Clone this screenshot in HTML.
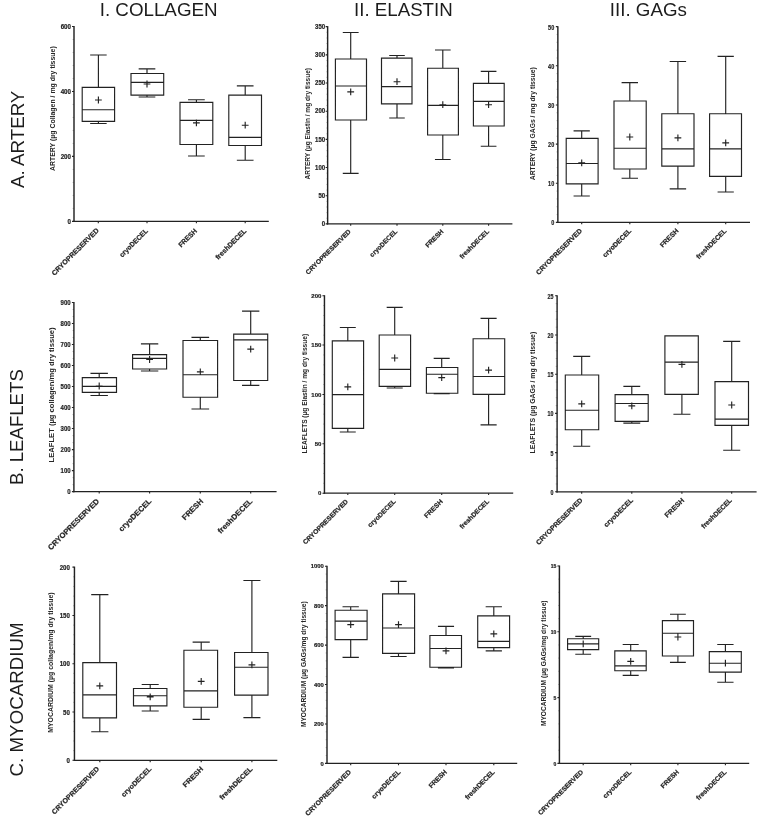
<!DOCTYPE html>
<html lang="en"><head><meta charset="utf-8"><title>Figure</title>
<style>html,body{margin:0;padding:0;background:#fff}svg{display:block}</style></head>
<body>
<svg width="764" height="823" viewBox="0 0 764 823" font-family='"Liberation Sans", Arial, Helvetica, sans-serif' fill="#242424">
<rect width="764" height="823" fill="#ffffff"/>
<defs><filter id="soft" x="0" y="0" width="764" height="823" filterUnits="userSpaceOnUse"><feGaussianBlur stdDeviation="0.33"/></filter></defs>
<g filter="url(#soft)">
<text x="99.7" y="16.3" font-size="17.6" textLength="117.9" lengthAdjust="spacingAndGlyphs" fill="#1c1c1c">I. COLLAGEN</text>
<text x="354.1" y="16.3" font-size="17.6" textLength="98.6" lengthAdjust="spacingAndGlyphs" fill="#1c1c1c">II. ELASTIN</text>
<text x="609.8" y="16.4" font-size="17.6" textLength="77.1" lengthAdjust="spacingAndGlyphs" fill="#1c1c1c">III. GAGs</text>
<text transform="translate(23.5 188) rotate(-90)" font-size="18.8" textLength="97.4" lengthAdjust="spacingAndGlyphs" fill="#1c1c1c">A. ARTERY</text>
<text transform="translate(23.1 485) rotate(-90)" font-size="18.8" textLength="115.8" lengthAdjust="spacingAndGlyphs" fill="#1c1c1c">B. LEAFLETS</text>
<text transform="translate(23.4 776.4) rotate(-90)" font-size="18.8" textLength="153.9" lengthAdjust="spacingAndGlyphs" fill="#1c1c1c">C. MYOCARDIUM</text>
<g><path d="M74 25.95V222" fill="none" stroke="#242424" stroke-width="1.45"/><path d="M73.3 221.4H268.8" fill="none" stroke="#242424" stroke-width="1.25"/><path d="M72 26.45H74M72 91.43H74M72 156.42H74M72 221.4H74" stroke="#242424" stroke-width="1.1" fill="none"/><path d="M72.6 39.45H74M72.6 52.44H74M72.6 65.44H74M72.6 78.44H74M72.6 104.43H74M72.6 117.43H74M72.6 130.42H74M72.6 143.42H74M72.6 169.41H74M72.6 182.41H74M72.6 195.41H74M72.6 208.4H74" stroke="#242424" stroke-width="0.7" fill="none" opacity="0.4"/><path d="M98.3 221.4V223.3M147 221.4V223.3M196.4 221.4V223.3M245.2 221.4V223.3" stroke="#242424" stroke-width="1.1" fill="none"/><text x="60.65" y="29.32" font-size="6.9" font-weight="bold" textLength="10.35" lengthAdjust="spacingAndGlyphs" stroke="#242424" stroke-width="0.22">600</text><text x="60.65" y="94.3" font-size="6.9" font-weight="bold" textLength="10.35" lengthAdjust="spacingAndGlyphs" stroke="#242424" stroke-width="0.22">400</text><text x="60.65" y="159.29" font-size="6.9" font-weight="bold" textLength="10.35" lengthAdjust="spacingAndGlyphs" stroke="#242424" stroke-width="0.22">200</text><text x="67.55" y="224.27" font-size="6.9" font-weight="bold" textLength="3.45" lengthAdjust="spacingAndGlyphs" stroke="#242424" stroke-width="0.22">0</text><text transform="translate(55.2 171) rotate(-90)" font-size="7" font-weight="bold" textLength="124.7" lengthAdjust="spacingAndGlyphs" fill="#262626">ARTERY (µg Collagen / mg dry tissue)</text><text transform="translate(99.4 230.96) rotate(-45)" text-anchor="end" font-size="7" font-weight="bold" textLength="63.62" lengthAdjust="spacingAndGlyphs" fill="#262626" stroke="#262626" stroke-width="0.22">CRYOPRESERVED</text><text transform="translate(148.4 231.46) rotate(-45)" text-anchor="end" font-size="7" font-weight="bold" textLength="37.03" lengthAdjust="spacingAndGlyphs" fill="#262626" stroke="#262626" stroke-width="0.22">cryoDECEL</text><text transform="translate(197.4 231.46) rotate(-45)" text-anchor="end" font-size="7" font-weight="bold" textLength="23.03" lengthAdjust="spacingAndGlyphs" fill="#262626" stroke="#262626" stroke-width="0.22">FRESH</text><text transform="translate(246.8 231.46) rotate(-45)" text-anchor="end" font-size="7" font-weight="bold" textLength="40.43" lengthAdjust="spacingAndGlyphs" fill="#262626" stroke="#262626" stroke-width="0.22">freshDECEL</text><path d="M82.2 87.4H114.6V121.4H82.2ZM82.2 109.7H114.6M98.4 87.4V55M90.14 55H106.66M98.4 121.4V123.5M90.14 123.5H106.66M95 100H101.8M98.4 96.6V103.4M131 73.5H163.7V95.1H131ZM131 82.3H163.7M147 73.5V68.9M138.66 68.9H155.34M147 95.1V97M138.66 97H155.34M143.6 84H150.4M147 80.6V87.4M180 102.3H212.8V144.5H180ZM180 120.3H212.8M196.4 102.3V99.7M188.04 99.7H204.76M196.4 144.5V156M188.04 156H204.76M193 122.9H199.8M196.4 119.5V126.3M228.8 95.1H261.5V145.5H228.8ZM228.8 137.3H261.5M245.2 95.1V85.9M236.86 85.9H253.54M245.2 145.5V160.2M236.86 160.2H253.54M241.8 125.2H248.6M245.2 121.8V128.6" fill="none" stroke="#242424" stroke-width="1.15"/></g>
<g><path d="M327.65 26.15V224.5" fill="none" stroke="#242424" stroke-width="1.45"/><path d="M326.95 223.9H512.4" fill="none" stroke="#242424" stroke-width="1.25"/><path d="M325.65 26.65H327.65M325.65 54.83H327.65M325.65 83.01H327.65M325.65 111.19H327.65M325.65 139.36H327.65M325.65 167.54H327.65M325.65 195.72H327.65M325.65 223.9H327.65" stroke="#242424" stroke-width="1.1" fill="none"/><path d="M326.25 32.29H327.65M326.25 37.92H327.65M326.25 43.56H327.65M326.25 49.19H327.65M326.25 60.46H327.65M326.25 66.1H327.65M326.25 71.74H327.65M326.25 77.37H327.65M326.25 88.64H327.65M326.25 94.28H327.65M326.25 99.91H327.65M326.25 105.55H327.65M326.25 116.82H327.65M326.25 122.46H327.65M326.25 128.09H327.65M326.25 133.73H327.65M326.25 145H327.65M326.25 150.64H327.65M326.25 156.27H327.65M326.25 161.91H327.65M326.25 173.18H327.65M326.25 178.81H327.65M326.25 184.45H327.65M326.25 190.09H327.65M326.25 201.36H327.65M326.25 206.99H327.65M326.25 212.63H327.65M326.25 218.26H327.65" stroke="#242424" stroke-width="0.7" fill="none" opacity="0.4"/><path d="M350.7 223.9V225.8M397 223.9V225.8M442.8 223.9V225.8M488.6 223.9V225.8" stroke="#242424" stroke-width="1.1" fill="none"/><text x="315.05" y="28.91" font-size="6.3" font-weight="bold" textLength="10.05" lengthAdjust="spacingAndGlyphs" stroke="#242424" stroke-width="0.22">350</text><text x="315.05" y="57.08" font-size="6.3" font-weight="bold" textLength="10.05" lengthAdjust="spacingAndGlyphs" stroke="#242424" stroke-width="0.22">300</text><text x="315.05" y="85.26" font-size="6.3" font-weight="bold" textLength="10.05" lengthAdjust="spacingAndGlyphs" stroke="#242424" stroke-width="0.22">250</text><text x="315.05" y="113.44" font-size="6.3" font-weight="bold" textLength="10.05" lengthAdjust="spacingAndGlyphs" stroke="#242424" stroke-width="0.22">200</text><text x="315.05" y="141.62" font-size="6.3" font-weight="bold" textLength="10.05" lengthAdjust="spacingAndGlyphs" stroke="#242424" stroke-width="0.22">150</text><text x="315.05" y="169.8" font-size="6.3" font-weight="bold" textLength="10.05" lengthAdjust="spacingAndGlyphs" stroke="#242424" stroke-width="0.22">100</text><text x="318.4" y="197.98" font-size="6.3" font-weight="bold" textLength="6.7" lengthAdjust="spacingAndGlyphs" stroke="#242424" stroke-width="0.22">50</text><text x="321.75" y="226.16" font-size="6.3" font-weight="bold" textLength="3.35" lengthAdjust="spacingAndGlyphs" stroke="#242424" stroke-width="0.22">0</text><text transform="translate(310.3 179.5) rotate(-90)" font-size="6.4" font-weight="bold" textLength="111.5" lengthAdjust="spacingAndGlyphs" fill="#262626">ARTERY (µg Elastin / mg dry tissue)</text><text transform="translate(351.3 231.96) rotate(-45)" text-anchor="end" font-size="6.6" font-weight="bold" textLength="60.87" lengthAdjust="spacingAndGlyphs" fill="#262626" stroke="#262626" stroke-width="0.22">CRYOPRESERVED</text><text transform="translate(397.8 231.96) rotate(-45)" text-anchor="end" font-size="6.6" font-weight="bold" textLength="35.98" lengthAdjust="spacingAndGlyphs" fill="#262626" stroke="#262626" stroke-width="0.22">cryoDECEL</text><text transform="translate(444 231.96) rotate(-45)" text-anchor="end" font-size="6.6" font-weight="bold" textLength="22.68" lengthAdjust="spacingAndGlyphs" fill="#262626" stroke="#262626" stroke-width="0.22">FRESH</text><text transform="translate(489.5 231.96) rotate(-45)" text-anchor="end" font-size="6.6" font-weight="bold" textLength="38.59" lengthAdjust="spacingAndGlyphs" fill="#262626" stroke="#262626" stroke-width="0.22">freshDECEL</text><path d="M335.4 59H366.5V120H335.4ZM335.4 86H366.5M350.7 59V32.5M342.77 32.5H358.63M350.7 120V173.3M342.77 173.3H358.63M347.3 91.8H354.1M350.7 88.4V95.2M381.5 58.1H412V103.9H381.5ZM381.5 86.6H412M397 58.1V55.5M389.22 55.5H404.78M397 103.9V118M389.22 118H404.78M393.6 81.7H400.4M397 78.3V85.1M427.6 68.2H458.4V135H427.6ZM427.6 105.3H458.4M442.8 68.2V50M434.95 50H450.65M442.8 135V159.5M434.95 159.5H450.65M439.4 104.7H446.2M442.8 101.3V108.1M473.4 83.4H504.2V126H473.4ZM473.4 101.3H504.2M488.6 83.4V71.3M480.75 71.3H496.45M488.6 126V146.2M480.75 146.2H496.45M485.2 104.7H492M488.6 101.3V108.1" fill="none" stroke="#242424" stroke-width="1.15"/></g>
<g><path d="M557.85 26.15V223" fill="none" stroke="#242424" stroke-width="1.45"/><path d="M557.15 222.4H750" fill="none" stroke="#242424" stroke-width="1.25"/><path d="M555.85 26.65H557.85M555.85 65.8H557.85M555.85 104.95H557.85M555.85 144.1H557.85M555.85 183.25H557.85M555.85 222.4H557.85" stroke="#242424" stroke-width="1.1" fill="none"/><path d="M556.45 34.48H557.85M556.45 42.31H557.85M556.45 50.14H557.85M556.45 57.97H557.85M556.45 73.63H557.85M556.45 81.46H557.85M556.45 89.29H557.85M556.45 97.12H557.85M556.45 112.78H557.85M556.45 120.61H557.85M556.45 128.44H557.85M556.45 136.27H557.85M556.45 151.93H557.85M556.45 159.76H557.85M556.45 167.59H557.85M556.45 175.42H557.85M556.45 191.08H557.85M556.45 198.91H557.85M556.45 206.74H557.85M556.45 214.57H557.85" stroke="#242424" stroke-width="0.7" fill="none" opacity="0.4"/><path d="M581.7 222.4V224.3M629.8 222.4V224.3M677.9 222.4V224.3M725.7 222.4V224.3" stroke="#242424" stroke-width="1.1" fill="none"/><text x="548.1" y="29.53" font-size="7.2" font-weight="bold" textLength="6.1" lengthAdjust="spacingAndGlyphs" stroke="#242424" stroke-width="0.22">50</text><text x="548.1" y="68.68" font-size="7.2" font-weight="bold" textLength="6.1" lengthAdjust="spacingAndGlyphs" stroke="#242424" stroke-width="0.22">40</text><text x="548.1" y="107.83" font-size="7.2" font-weight="bold" textLength="6.1" lengthAdjust="spacingAndGlyphs" stroke="#242424" stroke-width="0.22">30</text><text x="548.1" y="146.98" font-size="7.2" font-weight="bold" textLength="6.1" lengthAdjust="spacingAndGlyphs" stroke="#242424" stroke-width="0.22">20</text><text x="548.1" y="186.13" font-size="7.2" font-weight="bold" textLength="6.1" lengthAdjust="spacingAndGlyphs" stroke="#242424" stroke-width="0.22">10</text><text x="551.15" y="225.28" font-size="7.2" font-weight="bold" textLength="3.05" lengthAdjust="spacingAndGlyphs" stroke="#242424" stroke-width="0.22">0</text><text transform="translate(535 180.2) rotate(-90)" font-size="7" font-weight="bold" textLength="113" lengthAdjust="spacingAndGlyphs" fill="#262626">ARTERY (µg GAGs / mg dry tissue)</text><text transform="translate(582.5 231.36) rotate(-45)" text-anchor="end" font-size="6.8" font-weight="bold" textLength="61.92" lengthAdjust="spacingAndGlyphs" fill="#262626" stroke="#262626" stroke-width="0.22">CRYOPRESERVED</text><text transform="translate(631.8 231.36) rotate(-45)" text-anchor="end" font-size="6.8" font-weight="bold" textLength="37.46" lengthAdjust="spacingAndGlyphs" fill="#262626" stroke="#262626" stroke-width="0.22">cryoDECEL</text><text transform="translate(678.9 231.36) rotate(-45)" text-anchor="end" font-size="6.8" font-weight="bold" textLength="23.03" lengthAdjust="spacingAndGlyphs" fill="#262626" stroke="#262626" stroke-width="0.22">FRESH</text><text transform="translate(727 231.36) rotate(-45)" text-anchor="end" font-size="6.8" font-weight="bold" textLength="39.65" lengthAdjust="spacingAndGlyphs" fill="#262626" stroke="#262626" stroke-width="0.22">freshDECEL</text><path d="M566.2 138.4H598.1V183.9H566.2ZM566.2 163.5H598.1M581.7 138.4V130.9M573.57 130.9H589.83M581.7 183.9V196M573.57 196H589.83M578.3 162.9H585.1M581.7 159.5V166.3M614 101H646.2V169H614ZM614 148.2H646.2M629.8 101V82.6M621.59 82.6H638.01M629.8 169V178.2M621.59 178.2H638.01M626.4 137H633.2M629.8 133.6V140.4M661.8 113.7H694V166.1H661.8ZM661.8 148.8H694M677.9 113.7V61.5M669.69 61.5H686.11M677.9 166.1V188.8M669.69 188.8H686.11M674.5 137.9H681.3M677.9 134.5V141.3M709.6 113.7H741.5V176.4H709.6ZM709.6 148.8H741.5M725.7 113.7V56.4M717.57 56.4H733.83M725.7 176.4V192M717.57 192H733.83M722.3 142.8H729.1M725.7 139.4V146.2" fill="none" stroke="#242424" stroke-width="1.15"/></g>
<g><path d="M73.9 302V492.2" fill="none" stroke="#242424" stroke-width="1.45"/><path d="M73.2 491.6H276.6" fill="none" stroke="#242424" stroke-width="1.25"/><path d="M71.9 302.5H73.9M71.9 323.51H73.9M71.9 344.52H73.9M71.9 365.53H73.9M71.9 386.54H73.9M71.9 407.56H73.9M71.9 428.57H73.9M71.9 449.58H73.9M71.9 470.59H73.9M71.9 491.6H73.9" stroke="#242424" stroke-width="1.1" fill="none"/><path d="M72.5 309.5H73.9M72.5 316.51H73.9M72.5 330.51H73.9M72.5 337.52H73.9M72.5 351.53H73.9M72.5 358.53H73.9M72.5 372.54H73.9M72.5 379.54H73.9M72.5 393.55H73.9M72.5 400.55H73.9M72.5 414.56H73.9M72.5 421.56H73.9M72.5 435.57H73.9M72.5 442.57H73.9M72.5 456.58H73.9M72.5 463.59H73.9M72.5 477.59H73.9M72.5 484.6H73.9" stroke="#242424" stroke-width="0.7" fill="none" opacity="0.4"/><path d="M99.2 491.6V493.5M149.6 491.6V493.5M200.3 491.6V493.5M250.7 491.6V493.5" stroke="#242424" stroke-width="1.1" fill="none"/><text x="60.55" y="305.29" font-size="7.5" font-weight="bold" textLength="10.05" lengthAdjust="spacingAndGlyphs" stroke="#242424" stroke-width="0.22">900</text><text x="60.55" y="326.3" font-size="7.5" font-weight="bold" textLength="10.05" lengthAdjust="spacingAndGlyphs" stroke="#242424" stroke-width="0.22">800</text><text x="60.55" y="347.31" font-size="7.5" font-weight="bold" textLength="10.05" lengthAdjust="spacingAndGlyphs" stroke="#242424" stroke-width="0.22">700</text><text x="60.55" y="368.32" font-size="7.5" font-weight="bold" textLength="10.05" lengthAdjust="spacingAndGlyphs" stroke="#242424" stroke-width="0.22">600</text><text x="60.55" y="389.33" font-size="7.5" font-weight="bold" textLength="10.05" lengthAdjust="spacingAndGlyphs" stroke="#242424" stroke-width="0.22">500</text><text x="60.55" y="410.34" font-size="7.5" font-weight="bold" textLength="10.05" lengthAdjust="spacingAndGlyphs" stroke="#242424" stroke-width="0.22">400</text><text x="60.55" y="431.35" font-size="7.5" font-weight="bold" textLength="10.05" lengthAdjust="spacingAndGlyphs" stroke="#242424" stroke-width="0.22">300</text><text x="60.55" y="452.36" font-size="7.5" font-weight="bold" textLength="10.05" lengthAdjust="spacingAndGlyphs" stroke="#242424" stroke-width="0.22">200</text><text x="60.55" y="473.37" font-size="7.5" font-weight="bold" textLength="10.05" lengthAdjust="spacingAndGlyphs" stroke="#242424" stroke-width="0.22">100</text><text x="67.25" y="494.39" font-size="7.5" font-weight="bold" textLength="3.35" lengthAdjust="spacingAndGlyphs" stroke="#242424" stroke-width="0.22">0</text><text transform="translate(54 462.4) rotate(-90)" font-size="7.8" font-weight="bold" textLength="135" lengthAdjust="spacingAndGlyphs" fill="#262626">LEAFLET (µg collagen/mg dry tissue)</text><text transform="translate(99.7 501.77) rotate(-45)" text-anchor="end" font-size="7.6" font-weight="bold" textLength="68.84" lengthAdjust="spacingAndGlyphs" fill="#262626" stroke="#262626" stroke-width="0.22">CRYOPRESERVED</text><text transform="translate(151.9 501.77) rotate(-45)" text-anchor="end" font-size="7.6" font-weight="bold" textLength="42.61" lengthAdjust="spacingAndGlyphs" fill="#262626" stroke="#262626" stroke-width="0.22">cryoDECEL</text><text transform="translate(203.7 501.77) rotate(-45)" text-anchor="end" font-size="7.6" font-weight="bold" textLength="26.42" lengthAdjust="spacingAndGlyphs" fill="#262626" stroke="#262626" stroke-width="0.22">FRESH</text><text transform="translate(253 501.77) rotate(-45)" text-anchor="end" font-size="7.6" font-weight="bold" textLength="45.72" lengthAdjust="spacingAndGlyphs" fill="#262626" stroke="#262626" stroke-width="0.22">freshDECEL</text><path d="M82.3 377.6H116.5V392.3H82.3ZM82.3 386.3H116.5M99.2 377.6V373.3M90.48 373.3H107.92M99.2 392.3V395.5M90.48 395.5H107.92M95.8 386H102.6M99.2 382.6V389.4M132.6 354.6H166.6V369H132.6ZM132.6 358.3H166.6M149.6 354.6V343.9M140.93 343.9H158.27M149.6 369V371M140.93 371H158.27M146.2 359.5H153M149.6 356.1V362.9M183 340.5H217.6V397.2H183ZM183 374.7H217.6M200.3 340.5V337.3M191.48 337.3H209.12M200.3 397.2V409M191.48 409H209.12M196.9 371.9H203.7M200.3 368.5V375.3M233.7 334.1H267.7V380.5H233.7ZM233.7 339.9H267.7M250.7 334.1V311.1M242.03 311.1H259.37M250.7 380.5V385.4M242.03 385.4H259.37M247.3 349.1H254.1M250.7 345.7V352.5" fill="none" stroke="#242424" stroke-width="1.15"/></g>
<g><path d="M324.45 295.2V493.8" fill="none" stroke="#242424" stroke-width="1.45"/><path d="M323.75 493.2H513.2" fill="none" stroke="#242424" stroke-width="1.25"/><path d="M322.45 295.7H324.45M322.45 345.07H324.45M322.45 394.45H324.45M322.45 443.82H324.45M322.45 493.2H324.45" stroke="#242424" stroke-width="1.1" fill="none"/><path d="M323.05 305.57H324.45M323.05 315.45H324.45M323.05 325.32H324.45M323.05 335.2H324.45M323.05 354.95H324.45M323.05 364.82H324.45M323.05 374.7H324.45M323.05 384.57H324.45M323.05 404.32H324.45M323.05 414.2H324.45M323.05 424.07H324.45M323.05 433.95H324.45M323.05 453.7H324.45M323.05 463.57H324.45M323.05 473.45H324.45M323.05 483.32H324.45" stroke="#242424" stroke-width="0.7" fill="none" opacity="0.4"/><path d="M347.8 493.2V495.1M394.7 493.2V495.1M441.7 493.2V495.1M488.6 493.2V495.1" stroke="#242424" stroke-width="1.1" fill="none"/><text x="311.35" y="297.95" font-size="6" font-weight="bold" textLength="10.05" lengthAdjust="spacingAndGlyphs" stroke="#242424" stroke-width="0.22">200</text><text x="311.35" y="347.32" font-size="6" font-weight="bold" textLength="10.05" lengthAdjust="spacingAndGlyphs" stroke="#242424" stroke-width="0.22">150</text><text x="311.35" y="396.7" font-size="6" font-weight="bold" textLength="10.05" lengthAdjust="spacingAndGlyphs" stroke="#242424" stroke-width="0.22">100</text><text x="314.7" y="446.07" font-size="6" font-weight="bold" textLength="6.7" lengthAdjust="spacingAndGlyphs" stroke="#242424" stroke-width="0.22">50</text><text x="318.05" y="495.45" font-size="6" font-weight="bold" textLength="3.35" lengthAdjust="spacingAndGlyphs" stroke="#242424" stroke-width="0.22">0</text><text transform="translate(307 453.4) rotate(-90)" font-size="6.6" font-weight="bold" textLength="119.5" lengthAdjust="spacingAndGlyphs" fill="#262626">LEAFLETS (µg Elastin / mg dry tissue)</text><text transform="translate(348.5 501.96) rotate(-45)" text-anchor="end" font-size="6.6" font-weight="bold" textLength="60.65" lengthAdjust="spacingAndGlyphs" fill="#262626" stroke="#262626" stroke-width="0.22">CRYOPRESERVED</text><text transform="translate(396.2 501.96) rotate(-45)" text-anchor="end" font-size="6.6" font-weight="bold" textLength="36.61" lengthAdjust="spacingAndGlyphs" fill="#262626" stroke="#262626" stroke-width="0.22">cryoDECEL</text><text transform="translate(443.3 501.96) rotate(-45)" text-anchor="end" font-size="6.6" font-weight="bold" textLength="23.32" lengthAdjust="spacingAndGlyphs" fill="#262626" stroke="#262626" stroke-width="0.22">FRESH</text><text transform="translate(489.5 501.96) rotate(-45)" text-anchor="end" font-size="6.6" font-weight="bold" textLength="38.59" lengthAdjust="spacingAndGlyphs" fill="#262626" stroke="#262626" stroke-width="0.22">freshDECEL</text><path d="M332.3 340.8H363.6V428.3H332.3ZM332.3 394.6H363.6M347.8 340.8V327.5M339.82 327.5H355.78M347.8 428.3V432M339.82 432H355.78M344.4 386.8H351.2M347.8 383.4V390.2M379.2 335H410.6V386.3H379.2ZM379.2 369.3H410.6M394.7 335V307.4M386.69 307.4H402.71M394.7 386.3V388M386.69 388H402.71M391.3 358H398.1M394.7 354.6V361.4M426.4 367.5H457.8V393.2H426.4ZM426.4 374.2H457.8M441.7 367.5V358.3M433.69 358.3H449.71M441.7 393.2V393.7M433.69 393.7H449.71M438.3 377.6H445.1M441.7 374.2V381M473.1 338.7H504.7V394.3H473.1ZM473.1 376.5H504.7M488.6 338.7V318.3M480.54 318.3H496.66M488.6 394.3V424.8M480.54 424.8H496.66M485.2 370.1H492M488.6 366.7V373.5" fill="none" stroke="#242424" stroke-width="1.15"/></g>
<g><path d="M557.1 295.3V492.4" fill="none" stroke="#242424" stroke-width="1.45"/><path d="M556.4 491.8H756.6" fill="none" stroke="#242424" stroke-width="1.25"/><path d="M555.1 295.8H557.1M555.1 335H557.1M555.1 374.2H557.1M555.1 413.4H557.1M555.1 452.6H557.1M555.1 491.8H557.1" stroke="#242424" stroke-width="1.1" fill="none"/><path d="M555.7 303.64H557.1M555.7 311.48H557.1M555.7 319.32H557.1M555.7 327.16H557.1M555.7 342.84H557.1M555.7 350.68H557.1M555.7 358.52H557.1M555.7 366.36H557.1M555.7 382.04H557.1M555.7 389.88H557.1M555.7 397.72H557.1M555.7 405.56H557.1M555.7 421.24H557.1M555.7 429.08H557.1M555.7 436.92H557.1M555.7 444.76H557.1M555.7 460.44H557.1M555.7 468.28H557.1M555.7 476.12H557.1M555.7 483.96H557.1" stroke="#242424" stroke-width="0.7" fill="none" opacity="0.4"/><path d="M581.7 491.8V493.7M631.8 491.8V493.7M681.9 491.8V493.7M731.7 491.8V493.7" stroke="#242424" stroke-width="1.1" fill="none"/><text x="547.5" y="298.77" font-size="6.9" font-weight="bold" textLength="5.9" lengthAdjust="spacingAndGlyphs" stroke="#242424" stroke-width="0.22">25</text><text x="547.5" y="337.97" font-size="6.9" font-weight="bold" textLength="5.9" lengthAdjust="spacingAndGlyphs" stroke="#242424" stroke-width="0.22">20</text><text x="547.5" y="377.17" font-size="6.9" font-weight="bold" textLength="5.9" lengthAdjust="spacingAndGlyphs" stroke="#242424" stroke-width="0.22">15</text><text x="547.5" y="416.37" font-size="6.9" font-weight="bold" textLength="5.9" lengthAdjust="spacingAndGlyphs" stroke="#242424" stroke-width="0.22">10</text><text x="550.45" y="455.57" font-size="6.9" font-weight="bold" textLength="2.95" lengthAdjust="spacingAndGlyphs" stroke="#242424" stroke-width="0.22">5</text><text x="550.45" y="494.77" font-size="6.9" font-weight="bold" textLength="2.95" lengthAdjust="spacingAndGlyphs" stroke="#242424" stroke-width="0.22">0</text><text transform="translate(534.8 453.4) rotate(-90)" font-size="7" font-weight="bold" textLength="121.6" lengthAdjust="spacingAndGlyphs" fill="#262626">LEAFLETS (µg GAGs / mg dry tissue)</text><text transform="translate(583.1 500.76) rotate(-45)" text-anchor="end" font-size="6.8" font-weight="bold" textLength="62.77" lengthAdjust="spacingAndGlyphs" fill="#262626" stroke="#262626" stroke-width="0.22">CRYOPRESERVED</text><text transform="translate(633.4 500.76) rotate(-45)" text-anchor="end" font-size="6.8" font-weight="bold" textLength="37.88" lengthAdjust="spacingAndGlyphs" fill="#262626" stroke="#262626" stroke-width="0.22">cryoDECEL</text><text transform="translate(684.6 500.76) rotate(-45)" text-anchor="end" font-size="6.8" font-weight="bold" textLength="24.38" lengthAdjust="spacingAndGlyphs" fill="#262626" stroke="#262626" stroke-width="0.22">FRESH</text><text transform="translate(732.3 500.76) rotate(-45)" text-anchor="end" font-size="6.8" font-weight="bold" textLength="39.86" lengthAdjust="spacingAndGlyphs" fill="#262626" stroke="#262626" stroke-width="0.22">freshDECEL</text><path d="M565.3 375H598.7V429.7H565.3ZM565.3 410.2H598.7M581.7 375V356.3M573.18 356.3H590.22M581.7 429.7V446.2M573.18 446.2H590.22M578.3 403.8H585.1M581.7 400.4V407.2M615.1 394.6H648.2V421.4H615.1ZM615.1 403.5H648.2M631.8 394.6V386.3M623.36 386.3H640.24M631.8 421.4V423.1M623.36 423.1H640.24M628.4 405.8H635.2M631.8 402.4V409.2M664.9 335.9H698.3V394.3H664.9ZM664.9 362.1H698.3M673.38 335.9H690.42M681.9 394.3V414.2M673.38 414.2H690.42M678.5 364.4H685.3M681.9 361V367.8M715 381.6H748.5V425.4H715ZM715 419.1H748.5M731.7 381.6V341.3M723.16 341.3H740.24M731.7 425.4V450.2M723.16 450.2H740.24M728.3 405H735.1M731.7 401.6V408.4" fill="none" stroke="#242424" stroke-width="1.15"/></g>
<g><path d="M74.45 566.65V760.9" fill="none" stroke="#242424" stroke-width="1.45"/><path d="M73.75 760.3H277.3" fill="none" stroke="#242424" stroke-width="1.25"/><path d="M72.45 567.15H74.45M72.45 615.44H74.45M72.45 663.72H74.45M72.45 712.01H74.45M72.45 760.3H74.45" stroke="#242424" stroke-width="1.1" fill="none"/><path d="M73.05 576.81H74.45M73.05 586.46H74.45M73.05 596.12H74.45M73.05 605.78H74.45M73.05 625.1H74.45M73.05 634.75H74.45M73.05 644.41H74.45M73.05 654.07H74.45M73.05 673.38H74.45M73.05 683.04H74.45M73.05 692.7H74.45M73.05 702.35H74.45M73.05 721.67H74.45M73.05 731.33H74.45M73.05 740.98H74.45M73.05 750.64H74.45" stroke="#242424" stroke-width="0.7" fill="none" opacity="0.4"/><path d="M99.8 760.3V762.2M150.2 760.3V762.2M201.2 760.3V762.2M251.9 760.3V762.2" stroke="#242424" stroke-width="1.1" fill="none"/><text x="59.7" y="569.75" font-size="6.7" font-weight="bold" textLength="10.2" lengthAdjust="spacingAndGlyphs" stroke="#242424" stroke-width="0.22">200</text><text x="59.7" y="618.04" font-size="6.7" font-weight="bold" textLength="10.2" lengthAdjust="spacingAndGlyphs" stroke="#242424" stroke-width="0.22">150</text><text x="59.7" y="666.32" font-size="6.7" font-weight="bold" textLength="10.2" lengthAdjust="spacingAndGlyphs" stroke="#242424" stroke-width="0.22">100</text><text x="63.1" y="714.61" font-size="6.7" font-weight="bold" textLength="6.8" lengthAdjust="spacingAndGlyphs" stroke="#242424" stroke-width="0.22">50</text><text x="66.5" y="762.9" font-size="6.7" font-weight="bold" textLength="3.4" lengthAdjust="spacingAndGlyphs" stroke="#242424" stroke-width="0.22">0</text><text transform="translate(53.4 732.8) rotate(-90)" font-size="7.4" font-weight="bold" textLength="140.4" lengthAdjust="spacingAndGlyphs" fill="#262626">MYOCARDIUM (µg collagen/mg dry tissue)</text><text transform="translate(99.7 769.46) rotate(-45)" text-anchor="end" font-size="7" font-weight="bold" textLength="63.9" lengthAdjust="spacingAndGlyphs" fill="#262626" stroke="#262626" stroke-width="0.22">CRYOPRESERVED</text><text transform="translate(151.9 769.46) rotate(-45)" text-anchor="end" font-size="7" font-weight="bold" textLength="39.58" lengthAdjust="spacingAndGlyphs" fill="#262626" stroke="#262626" stroke-width="0.22">cryoDECEL</text><text transform="translate(203.7 769.46) rotate(-45)" text-anchor="end" font-size="7" font-weight="bold" textLength="25.72" lengthAdjust="spacingAndGlyphs" fill="#262626" stroke="#262626" stroke-width="0.22">FRESH</text><text transform="translate(253 769.46) rotate(-45)" text-anchor="end" font-size="7" font-weight="bold" textLength="43.47" lengthAdjust="spacingAndGlyphs" fill="#262626" stroke="#262626" stroke-width="0.22">freshDECEL</text><path d="M82.8 662.6H116.5V717.9H82.8ZM82.8 694.8H116.5M99.8 662.6V594.6M91.21 594.6H108.39M99.8 717.9V731.7M91.21 731.7H108.39M96.4 685.9H103.2M99.8 682.5V689.3M133.5 688.5H166.9V705.8H133.5ZM133.5 695.7H166.9M150.2 688.5V684.5M141.68 684.5H158.72M150.2 705.8V711M141.68 711H158.72M146.8 696.9H153.6M150.2 693.5V700.3M183.9 650.2H217.6V707.2H183.9ZM183.9 690.8H217.6M201.2 650.2V642.1M192.61 642.1H209.79M201.2 707.2V719.3M192.61 719.3H209.79M197.8 681.3H204.6M201.2 677.9V684.7M234.6 652.5H268V695.1H234.6ZM234.6 667.2H268M251.9 652.5V580.5M243.38 580.5H260.42M251.9 695.1V717.6M243.38 717.6H260.42M248.5 664.9H255.3M251.9 661.5V668.3" fill="none" stroke="#242424" stroke-width="1.15"/></g>
<g><path d="M327 565.7V764" fill="none" stroke="#242424" stroke-width="1.45"/><path d="M326.3 763.4H517.2" fill="none" stroke="#242424" stroke-width="1.25"/><path d="M325 566.2H327M325 605.64H327M325 645.08H327M325 684.52H327M325 723.96H327M325 763.4H327" stroke="#242424" stroke-width="1.1" fill="none"/><path d="M325.6 574.09H327M325.6 581.98H327M325.6 589.86H327M325.6 597.75H327M325.6 613.53H327M325.6 621.42H327M325.6 629.3H327M325.6 637.19H327M325.6 652.97H327M325.6 660.86H327M325.6 668.74H327M325.6 676.63H327M325.6 692.41H327M325.6 700.3H327M325.6 708.18H327M325.6 716.07H327M325.6 731.85H327M325.6 739.74H327M325.6 747.62H327M325.6 755.51H327" stroke="#242424" stroke-width="0.7" fill="none" opacity="0.4"/><path d="M350.7 763.4V765.3M398.5 763.4V765.3M446 763.4V765.3M493.8 763.4V765.3" stroke="#242424" stroke-width="1.1" fill="none"/><text x="310.7" y="568.41" font-size="5.9" font-weight="bold" textLength="13" lengthAdjust="spacingAndGlyphs" stroke="#242424" stroke-width="0.22">1000</text><text x="313.95" y="607.85" font-size="5.9" font-weight="bold" textLength="9.75" lengthAdjust="spacingAndGlyphs" stroke="#242424" stroke-width="0.22">800</text><text x="313.95" y="647.29" font-size="5.9" font-weight="bold" textLength="9.75" lengthAdjust="spacingAndGlyphs" stroke="#242424" stroke-width="0.22">600</text><text x="313.95" y="686.73" font-size="5.9" font-weight="bold" textLength="9.75" lengthAdjust="spacingAndGlyphs" stroke="#242424" stroke-width="0.22">400</text><text x="313.95" y="726.17" font-size="5.9" font-weight="bold" textLength="9.75" lengthAdjust="spacingAndGlyphs" stroke="#242424" stroke-width="0.22">200</text><text x="320.45" y="765.61" font-size="5.9" font-weight="bold" textLength="3.25" lengthAdjust="spacingAndGlyphs" stroke="#242424" stroke-width="0.22">0</text><text transform="translate(306 727.1) rotate(-90)" font-size="7" font-weight="bold" textLength="125.8" lengthAdjust="spacingAndGlyphs" fill="#262626">MYOCARDIUM (µg GAGs/mg dry tissue)</text><text transform="translate(351.6 772.56) rotate(-45)" text-anchor="end" font-size="6.8" font-weight="bold" textLength="61.78" lengthAdjust="spacingAndGlyphs" fill="#262626" stroke="#262626" stroke-width="0.22">CRYOPRESERVED</text><text transform="translate(400.9 772.56) rotate(-45)" text-anchor="end" font-size="6.8" font-weight="bold" textLength="37.6" lengthAdjust="spacingAndGlyphs" fill="#262626" stroke="#262626" stroke-width="0.22">cryoDECEL</text><text transform="translate(447.4 772.56) rotate(-45)" text-anchor="end" font-size="6.8" font-weight="bold" textLength="22.54" lengthAdjust="spacingAndGlyphs" fill="#262626" stroke="#262626" stroke-width="0.22">FRESH</text><text transform="translate(495.2 772.56) rotate(-45)" text-anchor="end" font-size="6.8" font-weight="bold" textLength="38.94" lengthAdjust="spacingAndGlyphs" fill="#262626" stroke="#262626" stroke-width="0.22">freshDECEL</text><path d="M335.1 610.2H367.1V639.6H335.1ZM335.1 621.1H367.1M350.7 610.2V606.7M342.54 606.7H358.86M350.7 639.6V657.4M342.54 657.4H358.86M347.3 624.6H354.1M350.7 621.2V628M382.6 593.8H414.6V653.4H382.6ZM382.6 628H414.6M398.5 593.8V581.4M390.34 581.4H406.66M398.5 653.4V656.5M390.34 656.5H406.66M395.1 624.6H401.9M398.5 621.2V628M429.9 635.5H461.5V667.2H429.9ZM429.9 648.5H461.5M446 635.5V626.3M437.94 626.3H454.06M446 667.2V667.8M437.94 667.8H454.06M442.6 650.8H449.4M446 647.4V654.2M477.7 615.9H509.6V647.6H477.7ZM477.7 641.3H509.6M493.8 615.9V606.7M485.67 606.7H501.93M493.8 647.6V650.8M485.67 650.8H501.93M490.4 633.8H497.2M493.8 630.4V637.2" fill="none" stroke="#242424" stroke-width="1.15"/></g>
<g><path d="M559.4 565.5V764" fill="none" stroke="#242424" stroke-width="1.45"/><path d="M558.7 763.4H749.2" fill="none" stroke="#242424" stroke-width="1.25"/><path d="M557.4 566H559.4M557.4 631.8H559.4M557.4 697.6H559.4M557.4 763.4H559.4" stroke="#242424" stroke-width="1.1" fill="none"/><path d="M558 579.16H559.4M558 592.32H559.4M558 605.48H559.4M558 618.64H559.4M558 644.96H559.4M558 658.12H559.4M558 671.28H559.4M558 684.44H559.4M558 710.76H559.4M558 723.92H559.4M558 737.08H559.4M558 750.24H559.4" stroke="#242424" stroke-width="0.7" fill="none" opacity="0.4"/><path d="M583.2 763.4V765.3M630.7 763.4V765.3M677.9 763.4V765.3M725.4 763.4V765.3" stroke="#242424" stroke-width="1.1" fill="none"/><text x="550.7" y="568.31" font-size="5.9" font-weight="bold" textLength="5.6" lengthAdjust="spacingAndGlyphs" stroke="#242424" stroke-width="0.22">15</text><text x="550.7" y="634.11" font-size="5.9" font-weight="bold" textLength="5.6" lengthAdjust="spacingAndGlyphs" stroke="#242424" stroke-width="0.22">10</text><text x="553.5" y="699.91" font-size="5.9" font-weight="bold" textLength="2.8" lengthAdjust="spacingAndGlyphs" stroke="#242424" stroke-width="0.22">5</text><text x="553.5" y="765.71" font-size="5.9" font-weight="bold" textLength="2.8" lengthAdjust="spacingAndGlyphs" stroke="#242424" stroke-width="0.22">0</text><text transform="translate(545.6 726.1) rotate(-90)" font-size="7" font-weight="bold" textLength="125.6" lengthAdjust="spacingAndGlyphs" fill="#262626">MYOCARDIUM (µg GAGs/mg dry tissue)</text><text transform="translate(583.7 772.46) rotate(-45)" text-anchor="end" font-size="6.6" font-weight="bold" textLength="60.87" lengthAdjust="spacingAndGlyphs" fill="#262626" stroke="#262626" stroke-width="0.22">CRYOPRESERVED</text><text transform="translate(631.8 772.46) rotate(-45)" text-anchor="end" font-size="6.6" font-weight="bold" textLength="37.11" lengthAdjust="spacingAndGlyphs" fill="#262626" stroke="#262626" stroke-width="0.22">cryoDECEL</text><text transform="translate(679.5 772.46) rotate(-45)" text-anchor="end" font-size="6.6" font-weight="bold" textLength="22.89" lengthAdjust="spacingAndGlyphs" fill="#262626" stroke="#262626" stroke-width="0.22">FRESH</text><text transform="translate(727 772.46) rotate(-45)" text-anchor="end" font-size="6.6" font-weight="bold" textLength="39.79" lengthAdjust="spacingAndGlyphs" fill="#262626" stroke="#262626" stroke-width="0.22">freshDECEL</text><path d="M567.6 638.7H598.7V649.6H567.6ZM567.6 643.9H598.7M583.2 638.7V636.4M575.27 636.4H591.13M583.2 649.6V654.2M575.27 654.2H591.13M579.8 643.9H586.6M583.2 640.5V647.3M614.8 650.8H646.2V670.7H614.8ZM614.8 665.8H646.2M630.7 650.8V644.5M622.69 644.5H638.71M630.7 670.7V675.3M622.69 675.3H638.71M627.3 661.4H634.1M630.7 658V664.8M662.4 620.6H693.5V656H662.4ZM662.4 633.2H693.5M677.9 620.6V614.2M669.97 614.2H685.83M677.9 656V662.3M669.97 662.3H685.83M674.5 637H681.3M677.9 633.6V640.4M709.3 651.6H741.3V672.1H709.3ZM709.3 663.2H741.3M725.4 651.6V644.5M717.24 644.5H733.56M725.4 672.1V682.2M717.24 682.2H733.56M722 663.2H728.8M725.4 659.8V666.6" fill="none" stroke="#242424" stroke-width="1.15"/></g>
</g>
</svg>
</body></html>
